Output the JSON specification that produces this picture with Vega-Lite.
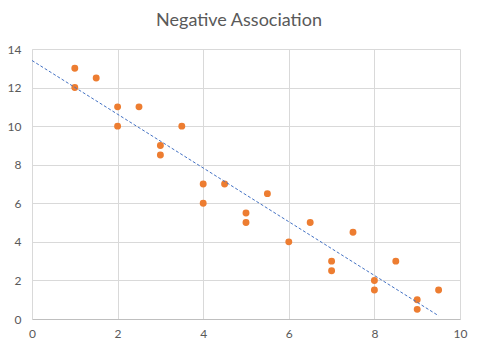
{
  "$schema": "https://vega.github.io/schema/vega-lite/v6.json",
  "width": 428,
  "height": 270,
  "autosize": {"type": "none"},
  "padding": {"left": 32, "top": 49, "right": 21, "bottom": 32},
  "background": "white",
  "title": {
    "text": "Negative Association",
    "font": "Lato",
    "fontSize": 18,
    "fontWeight": "normal",
    "color": "#595959",
    "offset": 13,
    "dx": -7,
    "anchor": "middle"
  },
  "config": {
    "view": {"stroke": null},
    "font": "Lato",
    "axis": {
      "labelFont": "Lato",
      "labelFontSize": 12,
      "labelColor": "#595959",
      "gridColor": "#D9D9D9",
      "gridWidth": 1,
      "ticks": false,
      "title": null,
      "labelOverlap": false,
      "labelBound": false
    }
  },
  "data": {
    "values": [
      {"x": 1, "y": 13}, {"x": 1, "y": 12}, {"x": 1.5, "y": 12.5},
      {"x": 2, "y": 11}, {"x": 2, "y": 10}, {"x": 2.5, "y": 11},
      {"x": 3.5, "y": 10}, {"x": 3, "y": 9}, {"x": 3, "y": 8.5},
      {"x": 4, "y": 7}, {"x": 4, "y": 6}, {"x": 4.5, "y": 7},
      {"x": 5, "y": 5.5}, {"x": 5, "y": 5}, {"x": 5.5, "y": 6.5},
      {"x": 6, "y": 4}, {"x": 6.5, "y": 5}, {"x": 7, "y": 3},
      {"x": 7, "y": 2.5}, {"x": 7.5, "y": 4.5}, {"x": 8, "y": 2},
      {"x": 8, "y": 1.5}, {"x": 8.5, "y": 3}, {"x": 9, "y": 1},
      {"x": 9, "y": 0.5}, {"x": 9.5, "y": 1.5}
    ]
  },
  "encoding": {
    "x": {
      "field": "x", "type": "quantitative",
      "scale": {"domain": [0, 10], "nice": false, "zero": true},
      "axis": {"values": [0, 2, 4, 6, 8, 10], "domainColor": "#BFBFBF", "labelPadding": 9, "labelFlush": false}
    },
    "y": {
      "field": "y", "type": "quantitative",
      "scale": {"domain": [0, 14], "nice": false},
      "axis": {"values": [0, 2, 4, 6, 8, 10, 12, 14], "domainColor": "#D9D9D9", "labelPadding": 11, "labelFlush": false}
    }
  },
  "layer": [
    {
      "mark": {"type": "point", "filled": true, "opacity": 1, "size": 48, "color": "#ED7D31"}
    },
    {
      "transform": [{"regression": "y", "on": "x", "extent": [0, 9.5]}],
      "mark": {"type": "line", "color": "#4472C4", "strokeWidth": 1, "strokeDash": [3, 2]}
    }
  ]
}
